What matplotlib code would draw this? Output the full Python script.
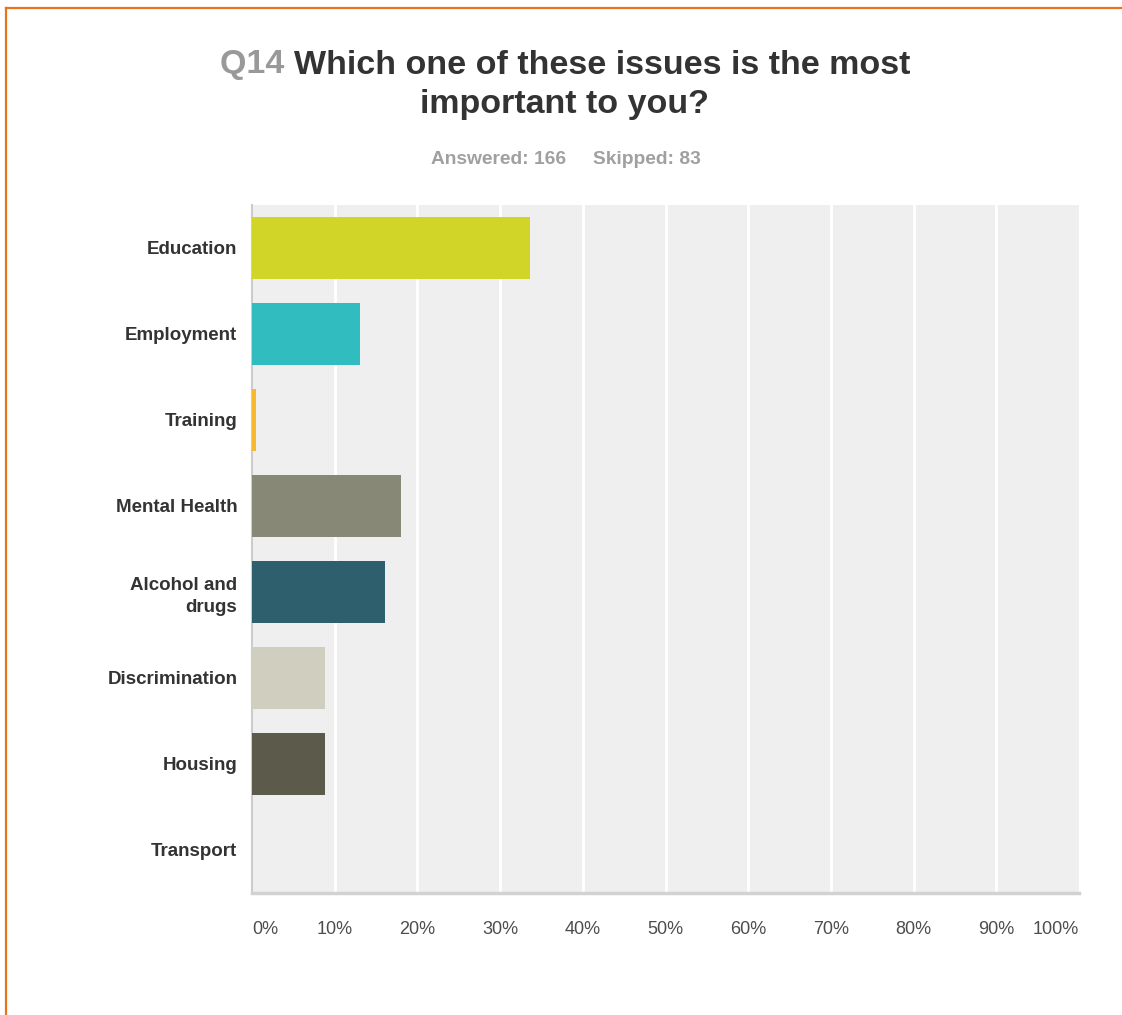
import matplotlib.pyplot as plt
from matplotlib.lines import Line2D

plt.rcParams['font.family'] = ['Liberation Sans', 'DejaVu Sans']

issues = ["Education", "Employment", "Training", "Mental Health",
          "Alcohol and\ndrugs", "Discrimination", "Housing", "Transport"]
percent = [33.6, 13.0, 0.5, 18.0, 16.1, 8.8, 8.8, 0.0]
colors = ["#d0d527", "#31bdbf", "#f7b92e", "#888877",
          "#2e5f6c", "#d0cebf", "#5c5a4a", "#c7b48b"]
ticks = list(range(0, 101, 10))
tick_labels = ["%d%%" % t for t in ticks]

W, H = 1122, 1015
fig = plt.figure(figsize=(W / 100, H / 100), dpi=100)

# orange frame on the left and top edges
fig.add_artist(Line2D([6 / W, 6 / W], [0, 1 - 8 / H], color="#e8731a", lw=1.6))
fig.add_artist(Line2D([6 / W, 1], [1 - 8 / H, 1 - 8 / H], color="#e8731a", lw=1.6))

ax = fig.add_axes([252 / W, 1 - 893 / H, (1079 - 252) / W, (893 - 205) / H])
ax.set_facecolor("#efefef")

y = list(range(len(issues)))
ax.barh(y, percent, height=0.72, color=colors, zorder=3)
ax.set_xlim(0, 100)
ax.set_ylim(len(issues) - 0.5, -0.5)

for t in ticks[1:-1]:
    ax.axvline(t, color="white", lw=2, zorder=1)

for s in ["top", "right"]:
    ax.spines[s].set_visible(False)
ax.spines["left"].set_color("#cccccc")
ax.spines["left"].set_linewidth(1.5)
ax.spines["bottom"].set_color("#d2d2d2")
ax.spines["bottom"].set_linewidth(2.5)

ax.set_yticks(y)
ax.set_yticklabels(issues, fontsize=13.5, fontweight="bold", color="#333333",
                   linespacing=1.35)
ax.set_xticks(ticks)
ax.set_xticklabels(tick_labels, fontsize=13, color="#4d4d4d")
ax.tick_params(axis="y", length=0, pad=10.5)
ax.tick_params(axis="x", length=0, pad=20)
xl = ax.get_xticklabels()
xl[0].set_horizontalalignment("left")
xl[-1].set_horizontalalignment("right")

# title: question number in grey, question in dark grey
renderer = fig.canvas.get_renderer()
cx = 565 / W
tq = fig.text(0, 0, "Q14 ", fontsize=24.5, fontweight="bold", color="#999999")
tw = fig.text(0, 0, "Which one of these issues is the most", fontsize=24.5,
              fontweight="bold", color="#333333")
wq = tq.get_window_extent(renderer).width
ww = tw.get_window_extent(renderer).width
x0 = cx - (wq + ww) / 2 / W
tq.set_position((x0, 1 - 65 / H))
tq.set_va("center")
tw.set_position((x0 + wq / W, 1 - 65 / H))
tw.set_va("center")
fig.text(cx, 1 - 105 / H, "important to you?", fontsize=24.5, fontweight="bold",
         color="#333333", ha="center", va="center")

fig.text(566 / W, 1 - 159 / H, "Answered: 166     Skipped: 83", fontsize=13.8,
         fontweight="bold", color="#a0a0a0", ha="center", va="center")

fig.savefig("out.png", dpi=100, facecolor="white")
